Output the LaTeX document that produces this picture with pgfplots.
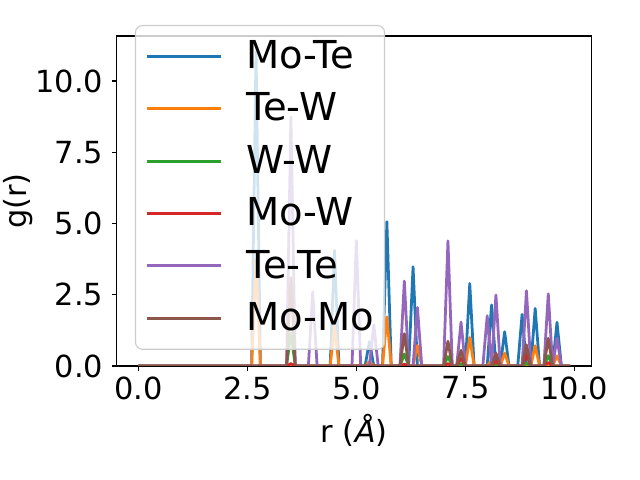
\documentclass[border=0pt]{standalone}
\usepackage{fontspec}
\setmainfont{DejaVu Sans}
\usepackage{pgfplots}
\usepackage{pgfplotstable}
\pgfplotsset{compat=1.18}
\definecolor{c0}{HTML}{1F77B4}
\definecolor{c1}{HTML}{FF7F0E}
\definecolor{c2}{HTML}{2CA02C}
\definecolor{c3}{HTML}{D62728}
\definecolor{c4}{HTML}{9467BD}
\definecolor{c5}{HTML}{8C564B}
% r, Mo-Te, Te-W, W-W, Mo-W, Te-Te, Mo-Mo
\pgfplotstableread{
r a b c d e f
0.0 0 0 0 0 0 0
2.6 0 0 0 0 0 0
2.7 11.03 3.72 0 0 0 0
2.8 0 0 0 0 0 0
2.9 0 0 0 0 0 0
3.0 0 0 0 0 0 0
3.1 0 0 0 0 0 0
3.2 0 0 0 0 0 0
3.3 0 0 0 0 0 0
3.4 0 0 0 0 0 0
3.5 0 0 1.16 0.08 8.73 3.10
3.6 0 0 0 0 0 0
3.7 0 0 0 0 0 0
3.8 0 0 0 0 0 0
3.9 0 0 0 0 0 0
4.0 0 0 0 0 2.60 0
4.1 0 0 0 0 0 0
4.2 0 0 0 0 0 0
4.3 0 0 0 0 0 0
4.4 0 0 0 0 0 0
4.5 4.05 1.40 0 0 0 0
4.6 0 0 0 0 0 0
4.7 0 0 0 0 0 0
4.8 0 0 0 0 0 0
4.9 0 0 0 0 0 0
5.0 0 0 0 0 4.40 0
5.1 0 0 0 0 0 0
5.2 0 0 0 0 0 0
5.3 0.85 0.15 0 0 0 0
5.4 0 0 0 0 1.45 0
5.5 0 0 0 0 0 0
5.6 0 0 0 0 0 0
5.7 5.06 1.72 0 0 0 0
5.8 0 0 0 0 0 0
5.9 0 0 0 0 0 0
6.0 0 0 0 0 0 0
6.1 0 0 0.42 0.06 2.98 1.13
6.2 0 0 0 0 0 0
6.3 3.48 0 0 0 0 0
6.4 0 0.72 0 0 2.05 0
6.5 0 0 0 0 0 0
6.6 0 0 0 0 0 0
6.7 0 0 0 0 0 0
6.8 0 0 0 0 0 0
6.9 0 0 0 0 0 0
7.0 0 0 0 0 0 0
7.1 0 0 0.33 0.08 4.39 0.87
7.2 0 0 0 0 0 0
7.3 0 0 0 0 0 0
7.4 0 0 0.08 0.27 1.54 0.55
7.5 0 0 0 0 0 0
7.6 2.89 1.00 0 0 0 0
7.7 0 0 0 0 0 0
7.8 0 0 0 0 0 0
7.9 0 0 0 0 0 0
8.0 0 0 0 0 1.76 0
8.1 2.14 0.20 0 0 0 0
8.2 0 0 0.06 0.18 2.49 0.45
8.3 0 0 0 0 0 0
8.4 1.20 0.45 0 0 0 0
8.5 0 0 0 0 0 0
8.6 0 0 0 0 0 0
8.7 0 0 0 0 0 0
8.8 1.81 0 0 0 0 0
8.9 0 0 0.10 0.39 2.64 0.74
9.0 0 0 0 0 0 0
9.1 2.02 0.71 0 0 0 0
9.2 0 0 0 0 0 0
9.3 0 0 0 0 0 0
9.4 0 0 0.36 0.12 2.53 0.97
9.5 0 0 0 0 0 0
9.6 1.53 0.35 0 0 0.98 0
9.7 0 0 0 0 0 0
9.8 0 0 0 0 0 0
9.9 0 0 0 0 0 0
}\gr
\begin{document}
\begin{tikzpicture}
\path[use as bounding box, fill=white] (0,0) rectangle (460.8bp,345.6bp);
\begin{axis}[
  at={(84bp,82.1bp)}, anchor=south west,
  width=342bp, height=237.6bp, scale only axis,
  xmin=-0.495, xmax=10.395, ymin=0, ymax=11.58,
  xtick={0,2.5,5,7.5,10}, xticklabels={0.0,2.5,5.0,7.5,10.0},
  ytick={0,2.5,5,7.5,10}, yticklabels={0.0,2.5,5.0,7.5,10.0},
  tick align=outside, xtick pos=bottom, ytick pos=left,
  major tick length=3.5bp,
  every tick/.style={black, line width=0.8bp},
  axis line style={line width=0.8bp},
  tick label style={font=\fontsize{22}{26}\selectfont},
  xticklabel style={anchor=north, inner sep=0pt, yshift=-4bp},
  yticklabel style={anchor=east, inner sep=0pt, xshift=-6bp},
  label style={font=\fontsize{22}{26}\selectfont},
  xlabel={r (\textit{Å})}, ylabel={g(r)},
  xlabel style={at={(axis description cs:0.5,-0.194)}, anchor=center},
  ylabel style={at={(axis description cs:-0.208,0.5)}, anchor=center},
  legend style={at={(0.0385,1.0333)}, anchor=north west, draw=black!20, line width=0.8bp,
    fill=white, fill opacity=0.8, draw opacity=1, text opacity=1, rounded corners=5bp,
    inner xsep=7.5bp, inner ysep=11bp, row sep=15.1bp,
    font=\fontsize{27.8}{32}\selectfont,
    nodes={inner sep=0pt, text height=20bp, text depth=2.6bp}},
  legend cell align=left,
  legend image code/.code={\draw[#1,line width=2.2bp] (0bp,0bp) -- (53bp,0bp); \path (70bp,0bp);},
  every axis plot/.append style={line width=2bp, line join=round},
]
\addplot[c0] table[x=r,y=a]{\gr};
\addlegendentry{Mo-Te}
\addplot[c1] table[x=r,y=b]{\gr};
\addlegendentry{Te-W}
\addplot[c2] table[x=r,y=c]{\gr};
\addlegendentry{W-W}
\addplot[c3] table[x=r,y=d]{\gr};
\addlegendentry{Mo-W}
\addplot[c4] table[x=r,y=e]{\gr};
\addlegendentry{Te-Te}
\addplot[c5] table[x=r,y=f]{\gr};
\addlegendentry{Mo-Mo}
\end{axis}
\end{tikzpicture}
\end{document}
